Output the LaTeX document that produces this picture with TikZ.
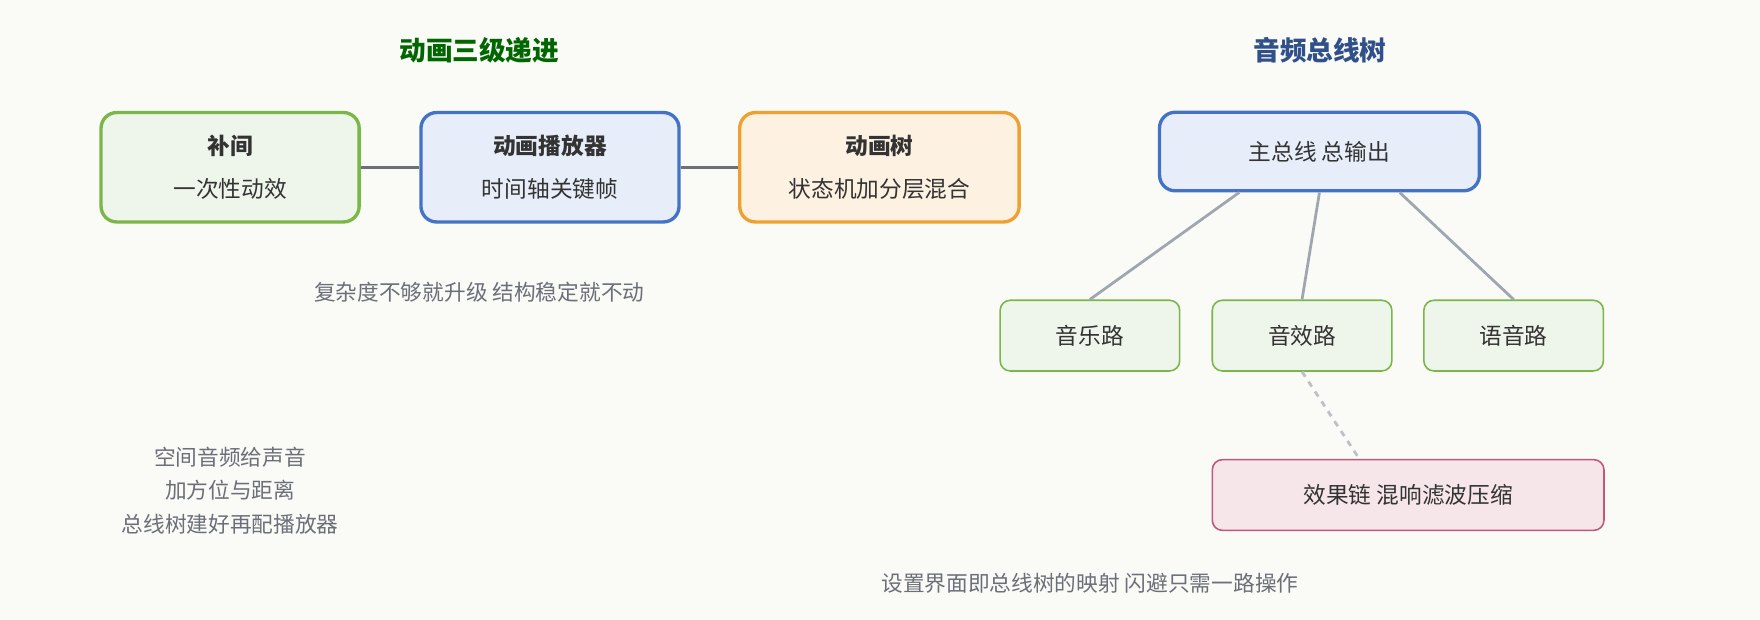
\documentclass[tikz,border=0pt]{standalone}
\usepackage{fontspec}
\setmainfont{Noto Sans CJK SC}
\usepackage{xcolor}
\definecolor{bgc}{HTML}{FAFAF7}
\definecolor{grn}{HTML}{7AB648}
\definecolor{grnf}{HTML}{EEF5EA}
\definecolor{blu}{HTML}{4472C4}
\definecolor{bluf}{HTML}{E8EEF9}
\definecolor{org}{HTML}{F0A030}
\definecolor{orgf}{HTML}{FDF1E1}
\definecolor{pnk}{HTML}{C0587A}
\definecolor{pnkf}{HTML}{F6E6EA}
\definecolor{txt}{HTML}{333333}
\definecolor{note}{HTML}{6B6F78}
\definecolor{lnk}{HTML}{A0A6B0}
\tikzset{
  big/.style={draw, line width=1.7pt, rounded corners=0.28cm, minimum width=4.6cm, minimum height=1.95cm, align=center, text=txt, font=\fontsize{11.5}{22}\selectfont},
  small/.style={draw=grn, fill=grnf, line width=0.8pt, rounded corners=0.18cm, minimum width=3.2cm, minimum height=1.26cm, text=txt, font=\fontsize{11.5}{14}\selectfont},
  ttl/.style={font=\bfseries\fontsize{13.5}{16}\selectfont},
  nt/.style={text=note, font=\fontsize{11}{17}\selectfont, align=center}
}
\begin{document}
\begin{tikzpicture}[x=0.02cm, y=-0.02cm]
\fill[bgc] (0,0) rectangle (1568,552);
% left: animation levels
\node[ttl, text=green!40!black] (t1) at (427,45) {动画三级递进};
\node[big, draw=grn, fill=grnf] (tween) at (205,149) {\textbf{补间}\\一次性动效};
\node[big, draw=blu, fill=bluf] (player) at (490,149) {\textbf{动画播放器}\\时间轴关键帧};
\node[big, draw=org, fill=orgf, minimum width=4.98cm] (tree) at (783.5,149) {\textbf{动画树}\\状态机加分层混合};
\draw[line width=1.5pt, note] (tween) -- (player);
\draw[line width=1.5pt, note] (player) -- (tree);
\node[nt] (n1) at (427,260) {复杂度不够就升级 结构稳定就不动};
\node[nt] (n2) at (205,437) {空间音频给声音\\加方位与距离\\总线树建好再配播放器};
% right: audio bus tree
\node[ttl, text=blu!70!black] (t2) at (1176,45) {音频总线树};
\node[big, draw=blu, fill=bluf, minimum width=5.7cm, minimum height=1.4cm] (bus) at (1175.5,135) {主总线 总输出};
\node[small] (music) at (971,299) {音乐路};
\node[small] (sfx) at (1160,299) {音效路};
\node[small] (voice) at (1348.5,299) {语音路};
\node[small, draw=pnk, fill=pnkf, minimum width=6.98cm] (fx) at (1254.5,441) {效果链 混响滤波压缩};
\draw[line width=1.4pt, lnk] ([xshift=-1.43cm]bus.south) -- (music.north);
\draw[line width=1.4pt, lnk] (bus.south) -- (sfx.north);
\draw[line width=1.4pt, lnk] ([xshift=1.43cm]bus.south) -- (voice.north);
\draw[line width=1.4pt, lnk!70, dashed] (sfx.south) -- ([xshift=-0.87cm]fx.north);
\node[nt] (n3) at (971,520) {设置界面即总线树的映射 闪避只需一路操作};
\end{tikzpicture}
\end{document}
